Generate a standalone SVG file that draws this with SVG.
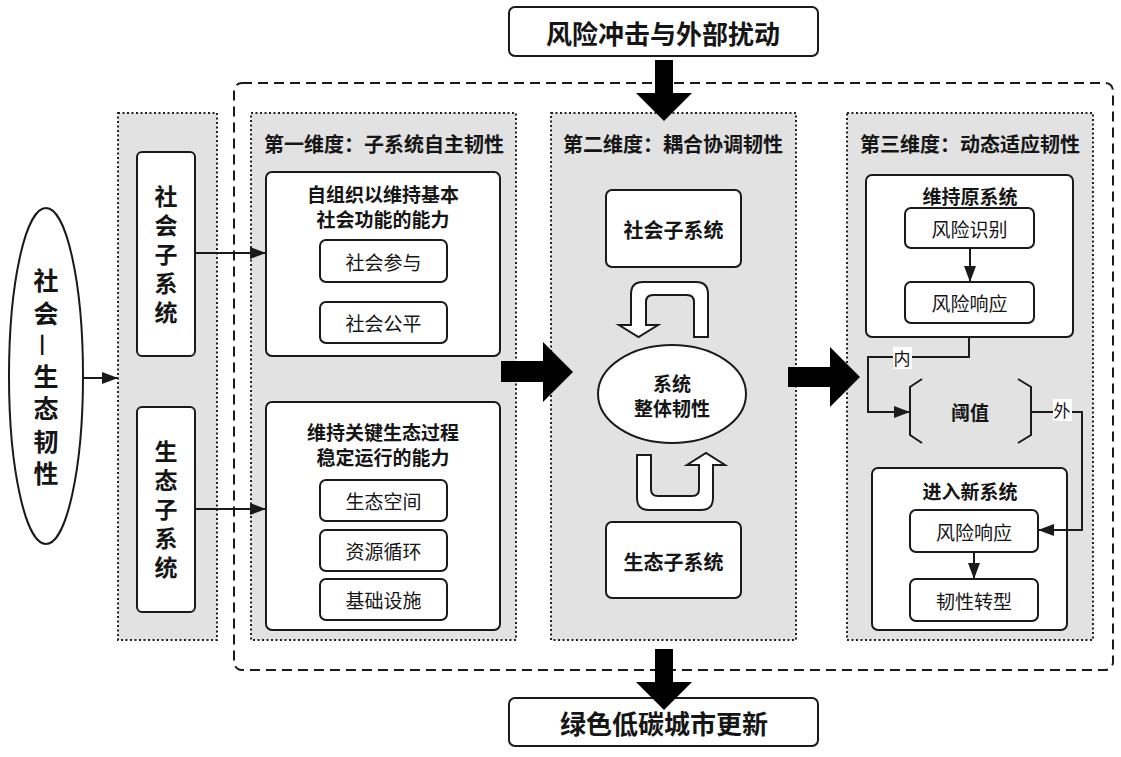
<svg xmlns="http://www.w3.org/2000/svg" width="1121" height="757" viewBox="0 0 1121 757">
<style>
text{font-family:"Noto Sans CJK SC","Liberation Sans",sans-serif;fill:#151515;text-anchor:middle;dominant-baseline:central}
.b{font-weight:bold}
.t26{font-size:26px;font-weight:bold}
.t19{font-size:19px}
.t20{font-size:20px;font-weight:bold}
.t17{font-size:17px}
.panel{fill:#e2e2e2;stroke:#222;stroke-width:2;stroke-dasharray:2 2.5}
.box{fill:#fff;stroke:#1a1a1a;stroke-width:2}
.ln{fill:none;stroke:#1a1a1a;stroke-width:2}
.big{fill:#000}
.vt{writing-mode:vertical-rl;font-weight:bold}
</style>
<defs>
<marker id="ah" markerWidth="16" markerHeight="12" refX="16" refY="6" orient="auto" markerUnits="userSpaceOnUse"><path d="M0,0 L16,6 L0,12 z" fill="#1a1a1a"/></marker>
</defs>
<rect width="1121" height="757" fill="#fff"/>

<rect id="outer" x="234" y="83" width="879" height="587" rx="8" fill="#fff" stroke="#1a1a1a" stroke-width="2" stroke-dasharray="10 6"/>

<g id="top">
<rect class="box" x="509" y="7" width="309" height="49" rx="6"/>
<text class="t26" x="663" y="32">风险冲击与外部扰动</text>
</g>
<g id="bottom">
<rect class="box" x="509" y="698" width="309" height="48" rx="6"/>
<text class="t26" x="664" y="722">绿色低碳城市更新</text>
</g>

<g id="root">
<ellipse cx="46" cy="376" rx="37" ry="168" fill="#fff" stroke="#1a1a1a" stroke-width="2"/>
<text class="vt" x="46" y="381" style="font-size:25px;letter-spacing:7.5px">社会—生态韧性</text>
</g>

<g id="panel0">
<rect class="panel" x="118" y="113" width="99" height="527"/>
<g id="soc">
<rect class="box" x="137" y="152" width="58" height="204" rx="5"/>
<text class="vt" x="166" y="257" style="font-size:23px;letter-spacing:6px">社会子系统</text>
</g>
<g id="eco">
<rect class="box" x="137" y="407" width="58" height="205" rx="5"/>
<text class="vt" x="166" y="512" style="font-size:23px;letter-spacing:6px">生态子系统</text>
</g>
</g>

<g id="panel1">
<rect class="panel" x="251" y="113" width="265" height="527"/>
<text class="t20" x="384" y="143">第一维度：子系统自主韧性</text>
<g id="p1box1">
<rect class="box" x="266" y="172" width="234" height="184" rx="6"/>
<text class="t19 b" x="383" y="193">自组织以维持基本</text>
<text class="t19 b" x="383" y="218">社会功能的能力</text>
<rect class="box" x="320" y="240" width="127" height="42" rx="6"/>
<text class="t19" x="383.5" y="261">社会参与</text>
<rect class="box" x="320" y="302" width="127" height="41" rx="6"/>
<text class="t19" x="383.5" y="322.5">社会公平</text>
</g>
<g id="p1box2">
<rect class="box" x="266" y="402" width="234" height="228" rx="6"/>
<text class="t19 b" x="383" y="431">维持关键生态过程</text>
<text class="t19 b" x="383" y="456">稳定运行的能力</text>
<rect class="box" x="320" y="480" width="127" height="41" rx="6"/>
<text class="t19" x="383.5" y="500.5">生态空间</text>
<rect class="box" x="320" y="530" width="127" height="41" rx="6"/>
<text class="t19" x="383.5" y="550.5">资源循环</text>
<rect class="box" x="320" y="579" width="127" height="41" rx="6"/>
<text class="t19" x="383.5" y="599.5">基础设施</text>
</g>
</g>

<g id="panel2">
<rect class="panel" x="551" y="113" width="245" height="527"/>
<text class="t20" x="673" y="143">第二维度：耦合协调韧性</text>
<g id="p2soc">
<rect class="box" x="606" y="190" width="135" height="77" rx="6"/>
<text class="t20" x="673.5" y="229">社会子系统</text>
</g>
<g id="p2whole">
<ellipse cx="672" cy="394" rx="74" ry="49" fill="#fff" stroke="#1a1a1a" stroke-width="2"/>
<text class="t19 b" x="672" y="382">系统</text>
<text class="t19 b" x="672" y="407">整体韧性</text>
</g>
<g id="p2eco">
<rect class="box" x="606" y="522" width="135" height="76" rx="6"/>
<text class="t20" x="673.5" y="561">生态子系统</text>
</g>
</g>

<g id="panel3">
<rect class="panel" x="847" y="113" width="246" height="527"/>
<text class="t20" x="970" y="143">第三维度：动态适应韧性</text>
<g id="keep">
<rect class="box" x="866" y="175" width="207" height="162" rx="6"/>
<text class="t19 b" x="970" y="195">维持原系统</text>
<rect class="box" x="905" y="208" width="129" height="40" rx="6"/>
<text class="t19" x="969.5" y="228">风险识别</text>
<rect class="box" x="905" y="282" width="129" height="41" rx="6"/>
<text class="t19" x="969.5" y="302.5">风险响应</text>
</g>
<g id="threshold">
<path class="ln" d="M922,379 L910,387 L910,435 L922,443 M1018,379 L1031,387 L1031,435 L1018,443"/>
<text class="t19 b" x="970" y="411">阈值</text>
</g>
<g id="newsys">
<rect class="box" x="872" y="468" width="195" height="162" rx="6"/>
<text class="t19 b" x="970" y="490">进入新系统</text>
<rect class="box" x="910" y="510" width="128" height="42" rx="6"/>
<text class="t19" x="974" y="531">风险响应</text>
<rect class="box" x="910" y="579" width="128" height="42" rx="6"/>
<text class="t19" x="974" y="600">韧性转型</text>
</g>
</g>

<g id="connectors">
<polygon class="big" points="655,60 673,60 673,93 692,93 664,121 636,93 655,93"/>
<polygon class="big" points="655,649 673,649 673,682 692,682 664,710 636,682 655,682"/>
<polygon class="big" points="501,361 543,361 543,342 573,372 543,402 543,382 501,382"/>
<polygon class="big" points="788,367 830,367 830,347 860,377 830,407 830,387 788,387"/>
<line class="ln" x1="83" y1="378" x2="118" y2="378" marker-end="url(#ah)"/>
<line class="ln" x1="195" y1="253" x2="266" y2="253" marker-end="url(#ah)"/>
<line class="ln" x1="195" y1="509" x2="266" y2="509" marker-end="url(#ah)"/>
<path d="M708,337 L708,294 Q708,282 696,282 L643,282 Q631,282 631,294 L631,325 L619,325 L638.5,337 L658,325 L646,325 L646,302 Q646,295 653,295 L687,295 Q694,295 694,302 L694,337 Z" fill="#fff" stroke="#1a1a1a" stroke-width="2" stroke-linejoin="miter"/>
<path d="M637,455 L637,498 Q637,510 649,510 L701,510 Q713,510 713,498 L713,465 L725,465 L706,453 L687,465 L699,465 L699,489 Q699,496 692,496 L658,496 Q651,496 651,489 L651,455 Z" fill="#fff" stroke="#1a1a1a" stroke-width="2"/>
<line class="ln" x1="970" y1="248" x2="970" y2="282" marker-end="url(#ah)"/>
<line class="ln" x1="974" y1="552" x2="974" y2="579" marker-end="url(#ah)"/>
<path class="ln" d="M969,337 L969,357 L868,357 L868,412 L910,412" marker-end="url(#ah)"/>
<path class="ln" d="M1031,412 L1082,412 L1082,530 L1038,530" marker-end="url(#ah)"/>
<rect x="893" y="347" width="19" height="22" fill="#fff"/>
<text class="t17" x="902" y="357">内</text>
<rect x="1053" y="399" width="19" height="22" fill="#fff"/>
<text class="t17" x="1062" y="409">外</text>
</g>
</svg>
